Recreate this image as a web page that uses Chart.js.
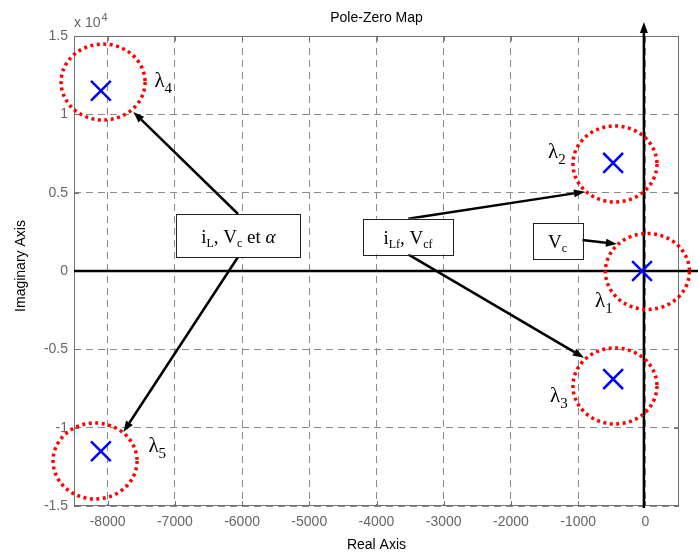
<!DOCTYPE html>
<html>
<head>
<meta charset="utf-8">
<script src="https://cdn.jsdelivr.net/npm/chart.js@4.4.0/dist/chart.umd.min.js"></script>
<style>
  html, body { margin: 0; padding: 0; background: #fff; }
</style>
</head>
<body>
<canvas id="pzmap" width="698" height="553"></canvas>
<script>
// poles (real, imaginary)
const poleNames = ['λ1', 'λ2', 'λ3', 'λ4', 'λ5']
const poleRe = [-50, -480, -480, -8100, -8100]
const poleIm = [0, 6900, -6900, 11500, -11500]

const xTicks = [-8000, -7000, -6000, -5000, -4000, -3000, -2000, -1000, 0]
const yTicks = [-15000, -10000, -5000, 0, 5000, 10000, 15000]

// annotation anchors, in data units
const ringRe = [30, -453, -453, -8068, -8187]
const ringIm = [-30, 6830, -7340, 12060, -12125]
const tagRe = [-750, -1449, -1419, -7304, -7393]
const tagIm = [-2298, 7212, -8360, 11743, -11551]

const boxes = [
  { x1: -6977, x2: -5134, y1: 3638, y2: 893,
    text: [['i'], ['L', 'sub'], [', V'], ['c', 'sub'], [' et '], ['α', 'it']] },
  { x1: -4202, x2: -2860, y1: 3338, y2: 1066,
    text: [['i'], ['Lf', 'sub'], [', V'], ['cf', 'sub']] },
  { x1: -1676, x2: -939, y1: 3063, y2: 747,
    text: [['V'], ['c', 'sub']] }
]
const arrows = [
  [-6060, 3638, -7616, 10147],
  [-6060, 893, -7765, -10275],
  [-3529, 3338, -899, 5061],
  [-3529, 1066, -914, -5533],
  [-939, 1978, -424, 1723]
]

function arrow(ctx, x1, y1, x2, y2) {
  const ang = Math.atan2(y2 - y1, x2 - x1)
  const len = 11, w = 4
  const bx = x2 - len * Math.cos(ang), by = y2 - len * Math.sin(ang)
  ctx.beginPath(); ctx.moveTo(x1, y1); ctx.lineTo(bx, by); ctx.stroke()
  ctx.beginPath(); ctx.moveTo(x2, y2)
  ctx.lineTo(bx + w * Math.sin(ang), by - w * Math.cos(ang))
  ctx.lineTo(bx - w * Math.sin(ang), by + w * Math.cos(ang))
  ctx.closePath(); ctx.fill()
}

function richText(ctx, parts, cx, base) {
  const fontOf = k => k === 'sub' ? '12px "Liberation Serif"' :
    k === 'it' ? 'italic 19px "Liberation Serif"' : '19px "Liberation Serif"'
  let total = 0
  parts.forEach(p => { ctx.font = fontOf(p[1]); total += ctx.measureText(p[0]).width })
  let px = cx - total / 2
  parts.forEach(p => {
    ctx.font = fontOf(p[1])
    ctx.fillText(p[0], px, base + (p[1] === 'sub' ? 4 : 0))
    px += ctx.measureText(p[0]).width
  })
}

const overlay = {
  id: 'overlay',
  beforeDatasetsDraw(chart) {
    const { ctx, chartArea: a, scales: { x, y } } = chart
    ctx.save()
    // frame + inward tick marks
    ctx.strokeStyle = '#707070'
    ctx.lineWidth = 1
    ctx.strokeRect(a.left + 0.5, a.top + 0.5, a.width - 1, a.height - 1)
    ctx.beginPath()
    xTicks.forEach(v => {
      const px = Math.round(x.getPixelForValue(v)) + 0.5
      ctx.moveTo(px, a.bottom); ctx.lineTo(px, a.bottom - 5)
      ctx.moveTo(px, a.top); ctx.lineTo(px, a.top + 5)
    })
    yTicks.forEach(v => {
      const py = Math.round(y.getPixelForValue(v)) + 0.5
      ctx.moveTo(a.left, py); ctx.lineTo(a.left + 5, py)
      ctx.moveTo(a.right, py); ctx.lineTo(a.right - 5, py)
    })
    ctx.stroke()
    // heavy real / imaginary axes
    const x0 = x.getPixelForValue(0) - 1.5
    const y0 = y.getPixelForValue(0)
    ctx.strokeStyle = '#000'
    ctx.fillStyle = '#000'
    ctx.lineWidth = 2.5
    ctx.beginPath(); ctx.moveTo(a.left, y0); ctx.lineTo(chart.width, y0); ctx.stroke()
    arrow(ctx, x0, a.bottom + 2, x0, a.top - 14)
    ctx.restore()
  },
  afterDatasetsDraw(chart) {
    const { ctx, chartArea: a, scales: { x, y } } = chart
    ctx.save()
    // red dotted rings
    ctx.strokeStyle = '#ff0000'
    ctx.lineWidth = 3.5
    ctx.setLineDash([3, 3.5])
    ringRe.forEach((r, i) => {
      ctx.beginPath()
      ctx.ellipse(x.getPixelForValue(r), y.getPixelForValue(ringIm[i]), 42, 38, 0, 0, Math.PI * 2)
      ctx.stroke()
    })
    ctx.setLineDash([])
    // arrows
    ctx.strokeStyle = '#000'
    ctx.fillStyle = '#000'
    ctx.lineWidth = 2.5
    arrows.forEach(r => arrow(ctx, x.getPixelForValue(r[0]), y.getPixelForValue(r[1]),
      x.getPixelForValue(r[2]), y.getPixelForValue(r[3])))
    // boxes
    ctx.lineWidth = 1
    boxes.forEach(b => {
      const l = x.getPixelForValue(b.x1), r = x.getPixelForValue(b.x2)
      const t = y.getPixelForValue(b.y1), bt = y.getPixelForValue(b.y2)
      ctx.fillStyle = '#fff'
      ctx.fillRect(l, t, r - l, bt - t)
      ctx.strokeStyle = '#222'
      ctx.strokeRect(Math.round(l) + 0.5, Math.round(t) + 0.5, Math.round(r - l), Math.round(bt - t))
      ctx.fillStyle = '#000'
      richText(ctx, b.text, (l + r) / 2, (t + bt) / 2 + 7)
    })
    // lambda tags
    ctx.fillStyle = '#000'
    poleNames.forEach((n, i) => {
      const px = x.getPixelForValue(tagRe[i]), py = y.getPixelForValue(tagIm[i])
      ctx.font = '21px "Liberation Serif"'
      ctx.fillText(n[0], px, py)
      const w = ctx.measureText(n[0]).width
      ctx.font = '15px "Liberation Serif"'
      ctx.fillText(n.slice(1), px + w, py + 6)
    })
    // titles
    ctx.font = '14px "Liberation Sans"'
    ctx.textAlign = 'center'
    ctx.fillText('Pole-Zero Map', (a.left + a.right) / 2, 22)
    ctx.fillText('Real Axis', (a.left + a.right) / 2, 549)
    ctx.save()
    ctx.translate(25, (a.top + a.bottom) / 2 - 5)
    ctx.rotate(-Math.PI / 2)
    ctx.fillText('Imaginary Axis', 0, 0)
    ctx.restore()
    // exponent
    ctx.textAlign = 'left'
    ctx.fillStyle = '#666'
    ctx.font = '14px "Liberation Sans"'
    const ew = ctx.measureText('x 10').width
    ctx.fillText('x 10', a.left, 27)
    ctx.font = '11px "Liberation Sans"'
    ctx.fillText('4', a.left + ew + 1, 21)
    ctx.restore()
  }
}

const gridStyle = { color: '#8a8a8a', lineWidth: 1, drawTicks: false }

new Chart(document.getElementById('pzmap'), {
  type: 'scatter',
  data: {
    datasets: [{
      label: 'Poles',
      data: poleRe.map((r, i) => ({ x: r, y: poleIm[i] })),
      pointStyle: 'crossRot',
      pointRadius: 14,
      pointHoverRadius: 14,
      borderWidth: 2.5,
      borderColor: '#0000ff'
    }]
  },
  options: {
    responsive: false,
    animation: false,
    layout: { padding: { top: 36, right: 19, left: 0, bottom: 0 } },
    plugins: { legend: { display: false }, tooltip: { enabled: false } },
    scales: {
      x: {
        min: -8500,
        max: 500,
        afterBuildTicks: s => { s.ticks = xTicks.map(v => ({ value: v })) },
        afterFit: s => { s.height = 47 },
        grid: gridStyle,
        border: { display: false, dash: [7, 5] },
        ticks: {
          color: '#666', padding: 8, maxRotation: 0, font: { family: 'Liberation Sans', size: 14 },
          callback: v => String(v)
        }
      },
      y: {
        min: -15000,
        max: 15000,
        afterBuildTicks: s => { s.ticks = yTicks.map(v => ({ value: v })) },
        afterFit: s => { s.width = 74 },
        grid: gridStyle,
        border: { display: false, dash: [7, 5] },
        ticks: {
          color: '#666', padding: 6, font: { family: 'Liberation Sans', size: 14 },
          callback: v => String(v / 10000)
        }
      }
    }
  },
  plugins: [overlay]
})
</script>
</body>
</html>
